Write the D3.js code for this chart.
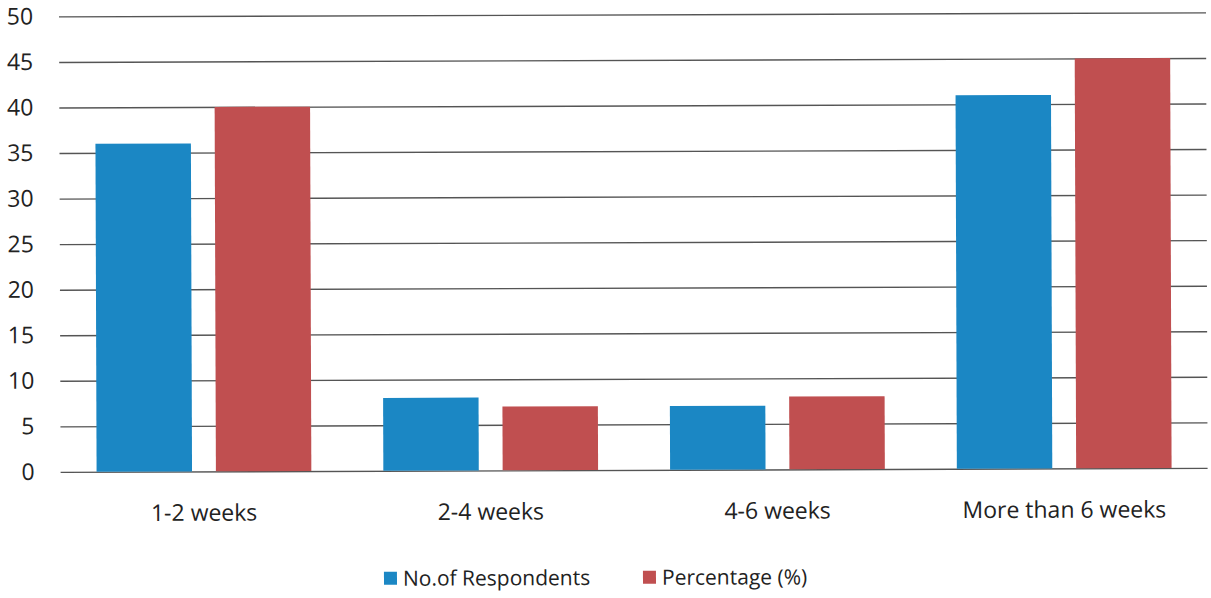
<!DOCTYPE html>
<html>
<head>
<meta charset="utf-8">
<script src="https://cdn.jsdelivr.net/npm/d3@7"></script>
<style>
  html, body { margin: 0; padding: 0; background: #ffffff; }
  svg { display: block; }
  text { font-family: "Open Sans", "DejaVu Sans", sans-serif; fill: #222; }
</style>
</head>
<body>
<svg id="chart" width="1211" height="598"></svg>
<script>
// Time categories and the two series drawn for each one
const categories = ["1-2 weeks", "2-4 weeks", "4-6 weeks", "More than 6 weeks"];
const seriesNames = ["No.of Respondents", "Percentage (%)"];
const respondents = [36, 8, 7, 41];
const percentage = [40, 7, 8, 45];
const yTicks = [0, 5, 10, 15, 20, 25, 30, 35, 40, 45, 50];
const colors = ["#1b87c4", "#c04f50"];

const W = 1211, H = 598;
const margin = { left: 60, right: 4, top: 14.5, bottom: 128 };

const svg = d3.select("#chart");
// whole chart sits very slightly tilted
const g = svg.append("g").attr("transform", `rotate(-0.2, ${W / 2}, ${H / 2})`);

const x0 = d3.scaleBand()
  .domain(categories)
  .range([margin.left, W - margin.right])
  .paddingInner(0)
  .paddingOuter(0);

const groupPad = 36;
const x1 = d3.scaleBand()
  .domain(seriesNames)
  .range([0, x0.bandwidth() - 2 * groupPad])
  .paddingInner(0.2)
  .paddingOuter(0);

const y = d3.scaleLinear()
  .domain([0, 50])
  .range([H - margin.bottom, margin.top]);

// horizontal gridlines with their value labels
const yAxis = d3.axisLeft(y)
  .tickValues(yTicks)
  .tickSize(-(W - margin.left - margin.right))
  .tickPadding(26)
  .tickFormat(d3.format("d"));

const ya = g.append("g")
  .attr("transform", `translate(${margin.left},0)`)
  .call(yAxis);
ya.select(".domain").remove();
ya.selectAll(".tick line").attr("stroke", "#555").attr("stroke-width", 1.4);
ya.selectAll(".tick text")
  .attr("font-size", 23)
  .attr("fill", "#222")
  .attr("font-family", "Open Sans, sans-serif");

// bars
const rows = categories.map((c, i) => ({ cat: c, vals: [respondents[i], percentage[i]] }));
const grp = g.append("g").selectAll("g.cat")
  .data(rows)
  .join("g")
  .attr("class", "cat")
  .attr("transform", d => `translate(${x0(d.cat) + groupPad},0)`);

grp.selectAll("rect")
  .data(d => d.vals.map((v, k) => ({ name: seriesNames[k], v, k })))
  .join("rect")
  .attr("x", d => x1(d.name))
  .attr("width", x1.bandwidth())
  .attr("y", d => y(d.v))
  .attr("height", d => y(0) - y(d.v))
  .attr("fill", d => colors[d.k]);

// category labels
const xAxis = d3.axisBottom(x0).tickSize(0).tickPadding(33);
const xa = g.append("g")
  .attr("transform", `translate(0,${y(0)})`)
  .call(xAxis);
xa.select(".domain").remove();
xa.selectAll(".tick text")
  .attr("font-size", 23)
  .attr("fill", "#222")
  .attr("font-family", "Open Sans, sans-serif");

// legend
const legend = g.append("g").attr("transform", "translate(383,571)");
const legX = [0, 259];
seriesNames.forEach((n, k) => {
  const lg = legend.append("g").attr("transform", `translate(${legX[k]},0)`);
  lg.append("rect").attr("width", 13).attr("height", 13).attr("fill", colors[k]);
  lg.append("text")
    .attr("x", 19)
    .attr("y", 14)
    .attr("font-size", 21)
    .text(n);
});
</script>
</body>
</html>
